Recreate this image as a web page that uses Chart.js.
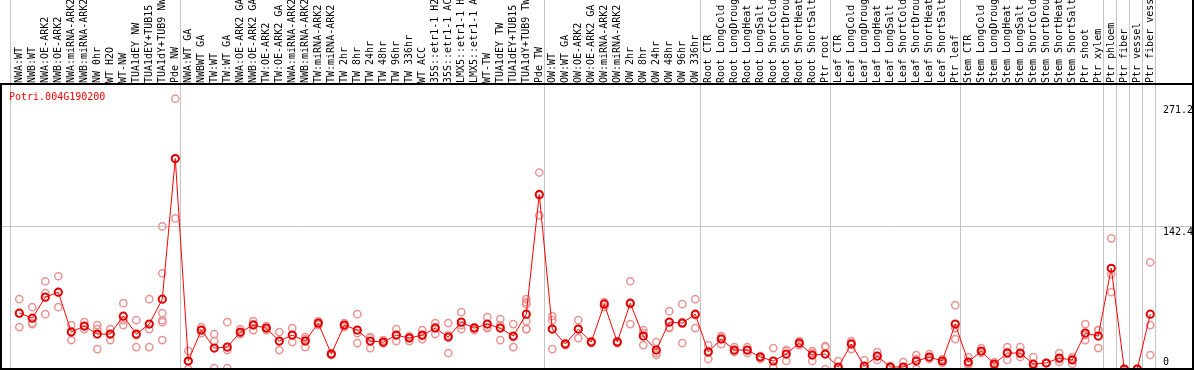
<!DOCTYPE html>
<html>
<head>
<meta charset="utf-8">
<script src="https://cdn.jsdelivr.net/npm/chart.js@4.4.1/dist/chart.umd.min.js"></script>
<style>
body { margin: 0; background: #fff; }
#wrap { width: 1194px; height: 370px; }
</style>
</head>
<body>
<div id="wrap"><canvas id="expr-chart" width="1194" height="370"></canvas></div>
<script>
const geneName = 'Potri.004G190200';

const categories = [
    'NWA:WT', 'NWB:WT', 'NWA:OE-ARK2', 'NWB:OE-ARK2', 'NWA:miRNA-ARK2', 'NWB:miRNA-ARK2',
    'NW 0hr', 'WT H2O', 'WT-NW', 'TUA1dEY NW', 'TUA1dEY+TUB15 NW', 'TUA1dY+TUB9 NW', 'Pde NW',
    'NWA:WT GA', 'NWBWT GA', 'TW:WT', 'TW:WT GA', 'NWA:OE-ARK2 GA', 'NWB:OE-ARK2 GA',
    'TW:OE-ARK2', 'TW:OE-ARK2 GA', 'NWA:miRNA-ARK2 GA', 'NWB:miRNA-ARK2 GA', 'TW:miRNA-ARK2',
    'TW:miRNA-ARK2 GA', 'TW 2hr', 'TW 8hr', 'TW 24hr', 'TW 48hr', 'TW 96hr', 'TW 336hr', 'WT ACC',
    '35S::etr1-1 H2O', '35S::etr1-1 ACC', 'LMX5::etr1-1 H2O', 'LMX5::etr1-1 ACC', 'WT-TW',
    'TUA1dEY TW', 'TUA1dEY+TUB15 TW', 'TUA1dY+TUB9 TW', 'Pde TW',
    'OW:WT', 'OW:WT GA', 'OW:OE-ARK2', 'OW:OE-ARK2 GA', 'OW:miRNA-ARK2', 'OW:miRNA-ARK2 GA',
    'OW 2hr', 'OW 8hr', 'OW 24hr', 'OW 48hr', 'OW 96hr', 'OW 336hr',
    'Root CTR', 'Root LongCold', 'Root LongDrought', 'Root LongHeat', 'Root LongSalt',
    'Root ShortCold', 'Root ShortDrought', 'Root ShortHeat', 'Root ShortSalt', 'Ptr root',
    'Leaf CTR', 'Leaf LongCold', 'Leaf LongDrought', 'Leaf LongHeat', 'Leaf LongSalt',
    'Leaf ShortCold', 'Leaf ShortDrought', 'Leaf ShortHeat', 'Leaf ShortSalt', 'Ptr leaf',
    'Stem CTR', 'Stem LongCold', 'Stem LongDrought', 'Stem LongHeat', 'Stem LongSalt',
    'Stem ShortCold', 'Stem ShortDrought', 'Stem ShortHeat', 'Stem ShortSalt', 'Ptr shoot',
    'Ptr xylem', 'Ptr phloem', 'Ptr fiber', 'Ptr vessel', 'Ptr fiber vessel'
];

const means = [
    56, 51, 72, 77, 37, 43, 35, 35, 53, 35, 45, 70, 211,
    8, 39, 21, 22, 37, 44, 41, 28, 34, 28, 46, 15, 44, 39, 28, 27, 34, 31, 34, 41, 32, 47, 41, 45, 41, 33, 55, 175,
    40, 25, 40, 27, 65, 27, 66, 33, 19, 47, 46, 55,
    17, 30, 19, 19, 12, 8, 15, 26, 14, 15,
    2, 25, 3, 13, 2, 2, 8, 12, 8, 45,
    7, 18, 5, 16, 16, 5, 6, 11, 9, 36, 33, 101, 0, 0, 55
];

const replicates = [
    [70, 56, 42], [62, 46, 45], [88, 76, 55], [93, 77, 62], [44, 38, 29], [47, 43, 40],
    [44, 40, 20], [40, 35, 29], [66, 49, 44], [49, 34, 22], [70, 40, 22],
    [143, 96, 56, 49, 47, 29], [271, 211, 151],
    [18, 8, 0], [42, 39, 36], [35, 28, 1], [47, 19, 1], [40, 36, 35], [48, 45, 39],
    [43, 41, 39], [37, 28, 19], [41, 34, 27], [32, 30, 22], [48, 46, 44], [16, 15, 14],
    [46, 44, 42], [55, 36, 26], [32, 31, 21], [29, 26, 26], [40, 34, 28], [33, 32, 28],
    [39, 33, 30], [46, 42, 35], [46, 34, 16], [57, 44, 40], [42, 42, 39], [52, 42, 41],
    [50, 44, 29], [45, 32, 22], [70, 67, 65, 48, 40, 40], [197, 174, 154],
    [53, 49, 20], [26, 25, 24], [49, 40, 31], [28, 27, 26], [67, 66, 62], [28, 27, 26],
    [88, 65, 45], [39, 36, 24], [27, 16, 14], [58, 42, 41], [65, 47, 26], [70, 54, 41],
    [24, 18, 10], [33, 32, 25], [22, 18, 17], [22, 19, 16], [13, 13, 10], [21, 3, 1],
    [19, 18, 8], [28, 26, 24], [18, 16, 8], [23, 22, 0],
    [8, 0, 0], [28, 26, 20], [9, 0, 0], [17, 13, 9], [3, 2, 1], [7, 0, 0],
    [14, 10, 0], [15, 12, 10], [10, 8, 6], [64, 41, 30],
    [12, 5, 4], [21, 18, 16], [7, 4, 3], [22, 17, 9], [22, 15, 12], [12, 2, 1],
    [6, 6, 6], [16, 10, 7], [12, 10, 5], [45, 34, 29], [39, 39, 21], [131, 95, 77],
    [0, 0, 0], [0, 0, 0], [107, 44, 14]
];

// last category index of each sample group (separator drawn just after it)
const groupEnds = [12, 40, 52, 62, 72, 83, 84, 85, 86, 87];

const yTicks = [0, 142.4, 271.2];
const yTickLabels = ['0', '142.4', '271.2'];
const yMax = 284.76;

const FONT = '"DejaVu Sans Mono", "Liberation Mono", monospace';
const groupLines = [-0.7].concat(groupEnds.map(i => i + 0.4));
const labelShift = { '0': -7, '142.4': 5, '271.2': 11.5 };

const framePlugin = {
    id: 'frame',
    afterDatasetsDraw(chart) {
        const ctx = chart.ctx;
        const area = chart.chartArea;
        ctx.save();
        ctx.fillStyle = '#000';
        ctx.fillRect(0, area.top - 2, chart.width, 2);
        ctx.fillRect(0, area.bottom - 1, chart.width, 2);
        ctx.fillRect(0, area.top, 2, area.bottom - area.top);
        ctx.fillRect(chart.width - 2, 0, 2, chart.height);

        ctx.font = '10px ' + FONT;
        ctx.textBaseline = 'middle';
        ctx.textAlign = 'left';
        ctx.fillStyle = '#f00';
        ctx.fillText(geneName, area.left + 7, area.top + 12);

        const ys = chart.scales.y;
        ctx.fillStyle = '#000';
        yTicks.forEach((v, i) => {
            const lab = yTickLabels[i];
            ctx.fillText(lab, area.right - 29, ys.getPixelForValue(v) + labelShift[lab]);
        });
        ctx.restore();
    }
};

function buildReplicatePoints() {
    const pts = [];
    replicates.forEach((reps, i) => {
        reps.forEach(v => pts.push({ x: i, y: v }));
    });
    return pts;
}

function noPadding(scale) {
    scale.paddingLeft = 0;
    scale.paddingRight = 0;
    scale.paddingTop = 0;
    scale.paddingBottom = 0;
}

function initializeExpressionChart() {
    const canvas = document.getElementById('expr-chart');
    if (!canvas) return;
    const ctx = canvas.getContext('2d');

    new Chart(ctx, {
        type: 'line',
        data: {
            datasets: [{
                label: geneName,
                data: means.map((v, i) => ({ x: i, y: v })),
                borderColor: '#ff0000',
                borderWidth: 1,
                pointRadius: 3.6,
                pointBorderWidth: 2,
                pointBorderColor: '#e00000',
                pointBackgroundColor: 'rgba(0,0,0,0)',
                tension: 0
            }, {
                label: 'replicates',
                data: buildReplicatePoints(),
                showLine: false,
                pointRadius: 3.6,
                pointBorderWidth: 1.5,
                pointBorderColor: 'rgb(234, 148, 148)',
                pointBackgroundColor: 'rgba(0,0,0,0)'
            }]
        },
        options: {
            responsive: false,
            animation: false,
            devicePixelRatio: 1,
            layout: { autoPadding: false, padding: { left: 2, right: 2, top: 0, bottom: 1 } },
            plugins: {
                legend: { display: false },
                tooltip: { enabled: false }
            },
            scales: {
                x: {
                    type: 'linear',
                    position: 'top',
                    min: -1.33,
                    max: 90.21,
                    afterBuildTicks: scale => {
                        scale.ticks = categories.map((c, i) => ({ value: i }))
                            .concat(groupLines.map(v => ({ value: v })));
                    },
                    afterFit: scale => {
                        scale.height = 85;
                        noPadding(scale);
                    },
                    border: { display: false },
                    grid: {
                        drawTicks: true,
                        tickLength: 85,
                        lineWidth: 1,
                        color: c => (c.tick && groupLines.includes(c.tick.value)) ? '#c4c4c4' : 'rgba(0,0,0,0)'
                    },
                    ticks: {
                        autoSkip: false,
                        minRotation: 90,
                        maxRotation: 90,
                        padding: -83,
                        labelOffset: 12,
                        color: '#000',
                        font: { family: FONT, size: 10 },
                        callback: v => Number.isInteger(v) ? categories[v] : ''
                    }
                },
                y: {
                    position: 'right',
                    min: 0,
                    max: yMax,
                    afterBuildTicks: scale => {
                        scale.ticks = yTicks.map(v => ({ value: v }));
                    },
                    afterFit: scale => {
                        scale.width = 0;
                        noPadding(scale);
                    },
                    border: { display: false },
                    grid: {
                        drawTicks: false,
                        color: c => (c.tick && c.tick.value === 142.4) ? '#c4c4c4' : 'rgba(0,0,0,0)'
                    },
                    ticks: { display: false }
                }
            }
        },
        plugins: [framePlugin]
    });
}

initializeExpressionChart();
</script>
</body>
</html>
